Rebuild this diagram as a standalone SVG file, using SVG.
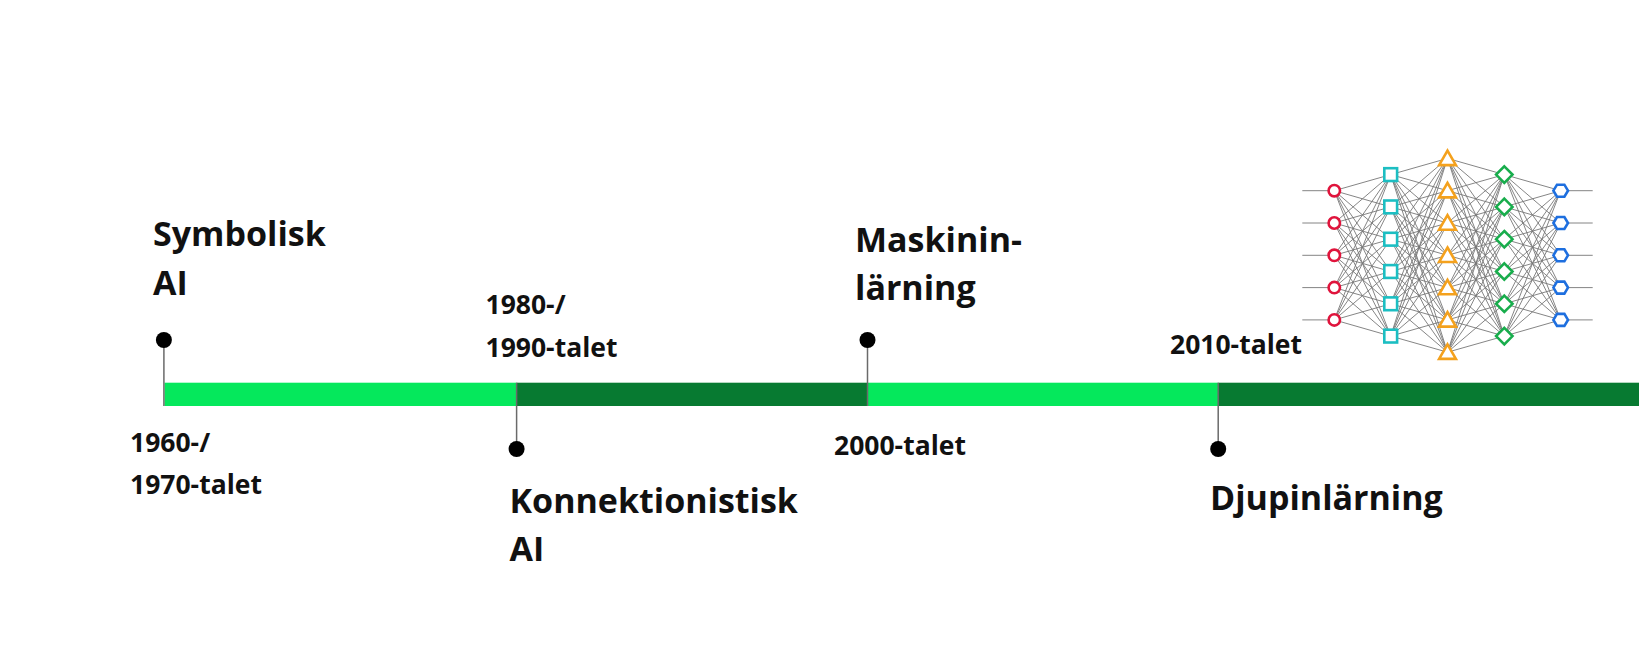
<svg xmlns="http://www.w3.org/2000/svg" xmlns:xlink="http://www.w3.org/1999/xlink" width="1643" height="656" viewBox="0 0 1643 656">
<style>
.t{font-family:"Open Sans","Liberation Sans",sans-serif;font-weight:bold;fill:#111}
.big{font-size:34px}
.dt{font-size:26.5px}
.pin{stroke:#6a6a6a;stroke-width:1.5}
.dot{fill:#000}
.lt{fill:#05E85C}
.dk{fill:#077A31}
.e{fill:none;stroke:#777;stroke-width:0.9}
.nd{fill:#fff;stroke-width:2.6}
</style>
<defs>
<path id="half" class="e" d="M1302.3 190.7H1334.3M1302.3 223H1334.3M1302.3 255.3H1334.3M1302.3 287.6H1334.3M1302.3 319.9H1334.3
M1334.3 190.7 1390.7 174.6M1334.3 190.7 1390.7 206.9M1334.3 190.7 1390.7 239.2M1334.3 190.7 1390.7 271.5M1334.3 190.7 1390.7 303.8M1334.3 190.7 1390.7 336.1
M1334.3 223 1390.7 174.6M1334.3 223 1390.7 206.9M1334.3 223 1390.7 239.2M1334.3 223 1390.7 271.5M1334.3 223 1390.7 303.8M1334.3 223 1390.7 336.1
M1334.3 255.3 1390.7 174.6M1334.3 255.3 1390.7 206.9M1334.3 255.3 1390.7 239.2M1334.3 255.3 1390.7 271.5M1334.3 255.3 1390.7 303.8M1334.3 255.3 1390.7 336.1
M1334.3 287.6 1390.7 174.6M1334.3 287.6 1390.7 206.9M1334.3 287.6 1390.7 239.2M1334.3 287.6 1390.7 271.5M1334.3 287.6 1390.7 303.8M1334.3 287.6 1390.7 336.1
M1334.3 319.9 1390.7 174.6M1334.3 319.9 1390.7 206.9M1334.3 319.9 1390.7 239.2M1334.3 319.9 1390.7 271.5M1334.3 319.9 1390.7 303.8M1334.3 319.9 1390.7 336.1
M1390.7 174.6 1447.5 158.4M1390.7 174.6 1447.5 190.7M1390.7 174.6 1447.5 223M1390.7 174.6 1447.5 255.3M1390.7 174.6 1447.5 287.6M1390.7 174.6 1447.5 319.9M1390.7 174.6 1447.5 352.2
M1390.7 206.9 1447.5 158.4M1390.7 206.9 1447.5 190.7M1390.7 206.9 1447.5 223M1390.7 206.9 1447.5 255.3M1390.7 206.9 1447.5 287.6M1390.7 206.9 1447.5 319.9M1390.7 206.9 1447.5 352.2
M1390.7 239.2 1447.5 158.4M1390.7 239.2 1447.5 190.7M1390.7 239.2 1447.5 223M1390.7 239.2 1447.5 255.3M1390.7 239.2 1447.5 287.6M1390.7 239.2 1447.5 319.9M1390.7 239.2 1447.5 352.2
M1390.7 271.5 1447.5 158.4M1390.7 271.5 1447.5 190.7M1390.7 271.5 1447.5 223M1390.7 271.5 1447.5 255.3M1390.7 271.5 1447.5 287.6M1390.7 271.5 1447.5 319.9M1390.7 271.5 1447.5 352.2
M1390.7 303.8 1447.5 158.4M1390.7 303.8 1447.5 190.7M1390.7 303.8 1447.5 223M1390.7 303.8 1447.5 255.3M1390.7 303.8 1447.5 287.6M1390.7 303.8 1447.5 319.9M1390.7 303.8 1447.5 352.2
M1390.7 336.1 1447.5 158.4M1390.7 336.1 1447.5 190.7M1390.7 336.1 1447.5 223M1390.7 336.1 1447.5 255.3M1390.7 336.1 1447.5 287.6M1390.7 336.1 1447.5 319.9M1390.7 336.1 1447.5 352.2"/>
<circle id="c" class="nd" r="5.7" stroke="#E0143C"/>
<rect id="s" class="nd" x="-6.4" y="-6.4" width="12.8" height="12.8" stroke="#1CBEC2"/>
<polygon id="tr" class="nd" points="0,-7.8 8.4,6.7 -8.4,6.7" stroke="#F4A11D"/>
<polygon id="dm" class="nd" points="0,-8.2 8.2,0 0,8.2 -8.2,0" stroke="#18AD4C"/>
<polygon id="hx" class="nd" points="-7.3,0 -3.7,-6 3.7,-6 7.3,0 3.7,6 -3.7,6" stroke="#1E6FDF"/>
</defs>
<rect width="1643" height="656" fill="#fff"/>

<g id="connectors">
<rect class="lt" x="164.5" y="382.7" width="352.1" height="23.3"/>
<rect class="dk" x="516.6" y="382.7" width="350.9" height="23.3"/>
<rect class="lt" x="867.5" y="382.7" width="350.7" height="23.3"/>
<rect class="dk" x="1218.2" y="382.7" width="420.8" height="23.3"/>
<line class="pin" x1="163.9" y1="340" x2="163.9" y2="406"/>
<line class="pin" x1="516.6" y1="382.7" x2="516.6" y2="449"/>
<line class="pin" x1="867.5" y1="340" x2="867.5" y2="406" stroke="#222"/>
<line class="pin" x1="1218.2" y1="382.7" x2="1218.2" y2="449" stroke="#222"/>
</g>

<g id="symbolisk">
<circle class="dot" cx="163.9" cy="340" r="8"/>
<text class="t big" x="153" y="246">Symbolisk</text>
<text class="t big" x="153" y="295">AI</text>
<text class="t dt" x="130" y="452">1960-/</text>
<text class="t dt" x="130" y="494">1970-talet</text>
</g>

<g id="konnektionistisk">
<circle class="dot" cx="516.6" cy="449" r="8"/>
<text class="t big" x="509.5" y="512.7">Konnektionistisk</text>
<text class="t big" x="509.5" y="560.7">AI</text>
<text class="t dt" x="485.5" y="314">1980-/</text>
<text class="t dt" x="485.5" y="356.7">1990-talet</text>
</g>

<g id="maskininlarning">
<circle class="dot" cx="867.5" cy="340" r="8"/>
<text class="t big" x="855" y="251.7">Maskinin-</text>
<text class="t big" x="855" y="300">lärning</text>
<text class="t dt" x="834" y="455">2000-talet</text>
</g>

<g id="djupinlarning">
<circle class="dot" cx="1218.2" cy="449" r="8"/>
<text class="t big" x="1210" y="510">Djupinlärning</text>
<text class="t dt" x="1170" y="354.3">2010-talet</text>
</g>

<g id="neural-network">
<g id="nn-edges">
<use xlink:href="#half"/>
<use xlink:href="#half" transform="translate(2895,0) scale(-1,1)"/>
</g>
<g id="nn-l1">
<use xlink:href="#c" x="1334.3" y="190.7"/><use xlink:href="#c" x="1334.3" y="223"/><use xlink:href="#c" x="1334.3" y="255.3"/><use xlink:href="#c" x="1334.3" y="287.6"/><use xlink:href="#c" x="1334.3" y="319.9"/>
</g>
<g id="nn-l2">
<use xlink:href="#s" x="1390.7" y="174.6"/><use xlink:href="#s" x="1390.7" y="206.9"/><use xlink:href="#s" x="1390.7" y="239.2"/><use xlink:href="#s" x="1390.7" y="271.5"/><use xlink:href="#s" x="1390.7" y="303.8"/><use xlink:href="#s" x="1390.7" y="336.1"/>
</g>
<g id="nn-l3">
<use xlink:href="#tr" x="1447.5" y="158.4"/><use xlink:href="#tr" x="1447.5" y="190.7"/><use xlink:href="#tr" x="1447.5" y="223"/><use xlink:href="#tr" x="1447.5" y="255.3"/><use xlink:href="#tr" x="1447.5" y="287.6"/><use xlink:href="#tr" x="1447.5" y="319.9"/><use xlink:href="#tr" x="1447.5" y="352.2"/>
</g>
<g id="nn-l4">
<use xlink:href="#dm" x="1504.3" y="174.6"/><use xlink:href="#dm" x="1504.3" y="206.9"/><use xlink:href="#dm" x="1504.3" y="239.2"/><use xlink:href="#dm" x="1504.3" y="271.5"/><use xlink:href="#dm" x="1504.3" y="303.8"/><use xlink:href="#dm" x="1504.3" y="336.1"/>
</g>
<g id="nn-l5">
<use xlink:href="#hx" x="1560.7" y="190.7"/><use xlink:href="#hx" x="1560.7" y="223"/><use xlink:href="#hx" x="1560.7" y="255.3"/><use xlink:href="#hx" x="1560.7" y="287.6"/><use xlink:href="#hx" x="1560.7" y="319.9"/>
</g>
</g>
</svg>
